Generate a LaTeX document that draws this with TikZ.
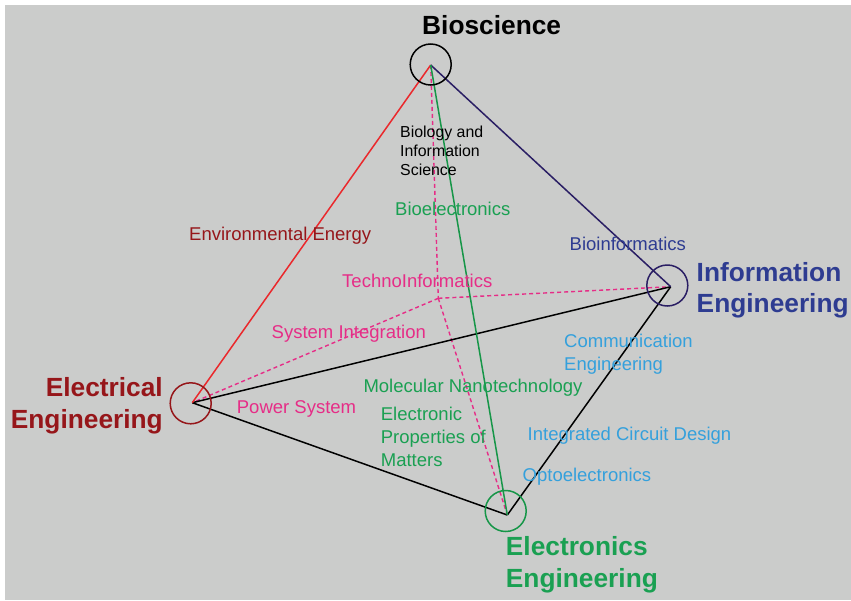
\documentclass[tikz,border=0pt]{standalone}
\usepackage{fontspec}
\setmainfont{Liberation Sans}
\definecolor{bggray}{RGB}{203,204,203}
\definecolor{edgered}{RGB}{234,40,44}
\definecolor{edgenavy}{RGB}{42,30,100}
\definecolor{edgegreen}{RGB}{22,150,72}
\definecolor{pinkc}{RGB}{230,45,135}
\definecolor{darkredc}{RGB}{150,22,26}
\definecolor{navytext}{RGB}{46,60,145}
\definecolor{greentext}{RGB}{26,160,82}
\definecolor{lightblue}{RGB}{52,160,220}
\tikzset{
  vcircle/.style={circle,minimum size=41pt,inner sep=0pt,line width=1.5pt},
  edge/.style={line width=1.5pt},
  hidden/.style={pinkc,line width=1.4pt,dash pattern=on 4pt off 3pt},
  biglabel/.style={inner sep=0pt,font=\fontsize{26.3}{31}\selectfont\bfseries},
  smalllabel/.style={inner sep=0pt,font=\fontsize{18.5}{23}\selectfont,anchor=base west},
  tinylabel/.style={inner sep=0pt,font=\fontsize{15.9}{19}\selectfont,anchor=base west}
}
\begin{document}
\begin{tikzpicture}[x=1pt,y=-1pt]
\useasboundingbox (0,0) rectangle (851,600);
\fill[white] (0,0) rectangle (851,600);
\fill[bggray] (5,5) rectangle (851,600);

% vertices
\coordinate (B) at (430.7,65);
\coordinate (I) at (670.7,286.7);
\coordinate (E) at (192.3,402.7);
\coordinate (N) at (507.3,515);
\coordinate (H) at (438.3,298.3);

% hidden (dashed) edges
\draw[hidden] (B) -- (H);
\draw[hidden] (H) -- (N);
\draw[hidden] (H) -- (I);
\draw[hidden] (H) -- (E);

% solid edges
\draw[edge,black] (E) -- (I);
\draw[edge,black] (E) -- (N);
\draw[edge,black] (I) -- (N);
\draw[edge,edgered] (B) -- (E);
\draw[edge,edgenavy] (B) -- (I);
\draw[edge,edgegreen] (B) -- (N);

% vertex circles
\node[vcircle,draw=black] (Bc) at (430.7,64.5) {};
\node[vcircle,draw=edgenavy] (Ic) at (667.3,285.5) {};
\node[vcircle,draw=darkredc] (Ec) at (190.7,403.3) {};
\node[vcircle,draw=edgegreen] (Nc) at (505.7,511) {};

% vertex labels
\node[biglabel,anchor=base west] (bio) at (422,34.4) {Bioscience};
\node[biglabel,anchor=base west,navytext] (info1) at (696.5,281.3) {Information};
\node[biglabel,anchor=base west,navytext] (info2) at (696.5,312.2) {Engineering};
\node[biglabel,anchor=base east,darkredc] (elec1) at (163,396.9) {Electrical};
\node[biglabel,anchor=base east,darkredc] (elec2) at (163,428.6) {Engineering};
\node[biglabel,anchor=base west,greentext] (elx1) at (505.7,555.7) {Electronics};
\node[biglabel,anchor=base west,greentext] (elx2) at (505.7,587.4) {Engineering};

% edge labels
\node[tinylabel,black] (bis1) at (400,137.5) {Biology and};
\node[tinylabel,black] (bis2) at (400,156.5) {Information};
\node[tinylabel,black] (bis3) at (400,175.5) {Science};
\node[smalllabel,greentext] (bioel) at (395,215.5) {Bioelectronics};
\node[smalllabel,darkredc] (env) at (189,240.3) {Environmental Energy};
\node[smalllabel,navytext] (bioinf) at (569.5,250.6) {Bioinformatics};
\node[smalllabel,pinkc] (techno) at (342,287.2) {TechnoInformatics};
\node[smalllabel,pinkc] (sysint) at (271.5,338.2) {System Integration};
\node[smalllabel,lightblue] (comm1) at (564,347.3) {Communication};
\node[smalllabel,lightblue] (comm2) at (564,370.3) {Engineering};
\node[smalllabel,greentext] (molnano) at (363.3,392.3) {Molecular Nanotechnology};
\node[smalllabel,pinkc] (power) at (236.7,413.3) {Power System};
\node[smalllabel,greentext] (epm1) at (380.7,420.5) {Electronic};
\node[smalllabel,greentext] (epm2) at (380.7,443.3) {Properties of};
\node[smalllabel,greentext] (epm3) at (380.7,466.2) {Matters};
\node[smalllabel,lightblue] (icd) at (527.5,440.2) {Integrated Circuit Design};
\node[smalllabel,lightblue] (opto) at (522.5,481.6) {Optoelectronics};
\end{tikzpicture}
\end{document}
